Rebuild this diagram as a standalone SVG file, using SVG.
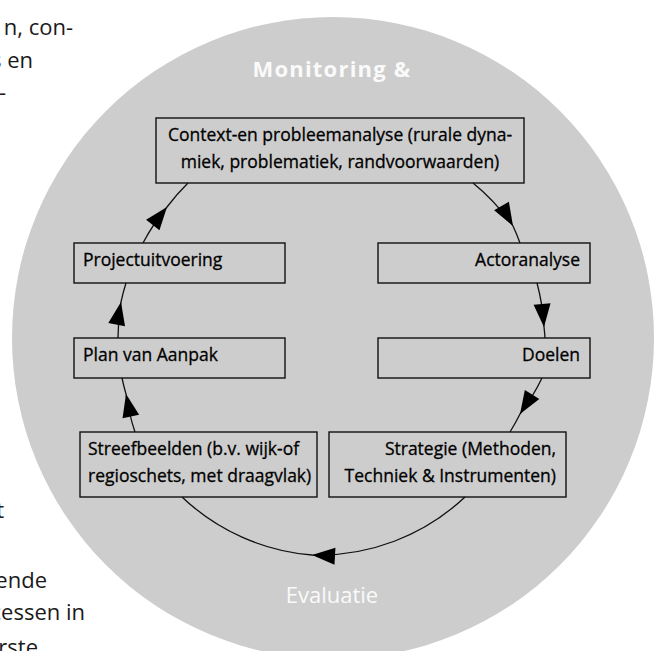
<svg xmlns="http://www.w3.org/2000/svg" width="658" height="651" viewBox="0 0 658 651">
<style>
.bg{font-family:"Open Sans","Liberation Sans",sans-serif;font-size:22px;fill:#1a1a1a}
.box{fill:none;stroke:#111;stroke-width:1.4}
.t{font-family:"Open Sans","Liberation Sans",sans-serif;font-size:17.5px;fill:#000;stroke:#000;stroke-width:0.3}
.conn{fill:none;stroke:#111;stroke-width:1.3;marker-mid:url(#ah)}
.big{font-family:"Open Sans","Liberation Sans",sans-serif;fill:#fafafa;text-anchor:middle}
</style>
<defs>
<marker id="ah" viewBox="-25 -10 26 20" refX="0" refY="0" markerWidth="26" markerHeight="20" markerUnits="userSpaceOnUse" orient="auto">
<path d="M0,0 L-23,-8.5 L-23,8.5 z" fill="#000"/>
</marker>
</defs>
<rect width="658" height="651" fill="#fff"/>
<g id="page-text">
<text class="bg" x="73" y="35" text-anchor="end">n, con-</text>
<text class="bg" x="33" y="68" text-anchor="end">s en</text>
<text class="bg" x="6" y="100" text-anchor="end">-</text>
<text class="bg" x="4" y="518" text-anchor="end">t</text>
<text class="bg" x="47" y="588" text-anchor="end">ende</text>
<text class="bg" x="85" y="620" text-anchor="end">cessen in</text>
<text class="bg" x="38" y="655" text-anchor="end">rste</text>
</g>
<circle id="circle" cx="333" cy="338" r="321" fill="#cdcdcd"/>
<text class="big" x="332" y="77" font-size="22" font-weight="700" letter-spacing="1.2">Monitoring &amp;</text>
<text class="big" x="332" y="603" font-size="22">Evaluatie</text>
<g id="connectors">
<path class="conn" d="M473,183 A213.5,213.5 0 0 1 513,226 A213.5,213.5 0 0 1 520,243"/>
<path class="conn" d="M537,283 A213.5,213.5 0 0 1 544,327 A213.5,213.5 0 0 1 545,338"/>
<path class="conn" d="M542,378 A213.5,213.5 0 0 1 520,414 A213.5,213.5 0 0 1 510,432"/>
<path class="conn" d="M465,497 A213.5,213.5 0 0 1 312,555 A213.5,213.5 0 0 1 182,497"/>
<path class="conn" d="M135,432 A213.5,213.5 0 0 1 126,394 A213.5,213.5 0 0 1 122,378"/>
<path class="conn" d="M118,338 A213.5,213.5 0 0 1 121,302 A213.5,213.5 0 0 1 126,283"/>
<path class="conn" d="M143,243 A213.5,213.5 0 0 1 167,207 A213.5,213.5 0 0 1 188,183"/>
</g>
<g id="context">
<rect class="box" x="156" y="118" width="368" height="65"/>
<text class="t" x="340" y="141" text-anchor="middle">Context-en probleemanalyse (rurale dyna-</text>
<text class="t" x="340" y="168" text-anchor="middle">miek, problematiek, randvoorwaarden)</text>
</g>
<g id="actoranalyse">
<rect class="box" x="378" y="243" width="212" height="40"/>
<text class="t" x="580" y="266" text-anchor="end">Actoranalyse</text>
</g>
<g id="doelen">
<rect class="box" x="378" y="338" width="212" height="40"/>
<text class="t" x="580" y="361" text-anchor="end">Doelen</text>
</g>
<g id="strategie">
<rect class="box" x="329" y="432" width="237" height="65"/>
<text class="t" x="556" y="455" text-anchor="end">Strategie (Methoden,</text>
<text class="t" x="556" y="482" text-anchor="end">Techniek &amp; Instrumenten)</text>
</g>
<g id="streefbeelden">
<rect class="box" x="80" y="432" width="237" height="65"/>
<text class="t" x="88" y="455">Streefbeelden (b.v. wijk-of</text>
<text class="t" x="88" y="482">regioschets, met draagvlak)</text>
</g>
<g id="plan">
<rect class="box" x="74" y="338" width="211" height="40"/>
<text class="t" x="83" y="361">Plan van Aanpak</text>
</g>
<g id="projectuitvoering">
<rect class="box" x="74" y="243" width="211" height="40"/>
<text class="t" x="83" y="266">Projectuitvoering</text>
</g>
</svg>
